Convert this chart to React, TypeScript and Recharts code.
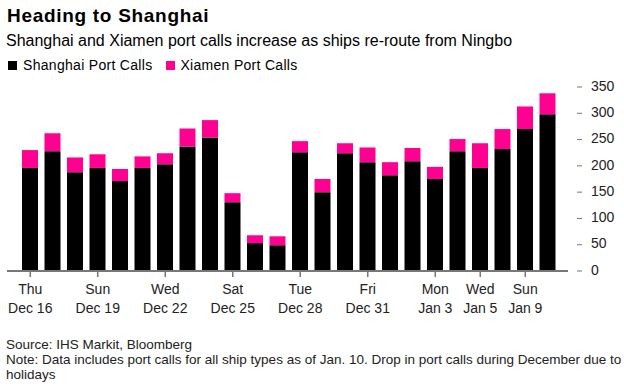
import { BarChart, Bar, XAxis, YAxis } from "recharts";

const categories = [
  "Dec 16", "Dec 17", "Dec 18", "Dec 19", "Dec 20", "Dec 21", "Dec 22", "Dec 23",
  "Dec 24", "Dec 25", "Dec 26", "Dec 27", "Dec 28", "Dec 29", "Dec 30", "Dec 31",
  "Jan 1", "Jan 2", "Jan 3", "Jan 4", "Jan 5", "Jan 6", "Jan 9", "Jan 10",
];
const shanghai = [196, 228, 188, 196, 171, 196, 203, 237, 254, 131, 53, 49, 226, 150, 224, 207, 182, 209, 175, 228, 196, 232, 270, 298];
const xiamen = [34, 34, 28, 26, 23, 22, 21, 34, 33, 17, 15, 17, 21, 25, 19, 28, 25, 25, 23, 23, 47, 38, 43, 40];

const tickDates = ["Dec 16", "Dec 19", "Dec 22", "Dec 25", "Dec 28", "Dec 31", "Jan 3", "Jan 5", "Jan 9"];
const tickDays = ["Thu", "Sun", "Wed", "Sat", "Tue", "Fri", "Mon", "Wed", "Sun"];
const yTicks = [0, 50, 100, 150, 200, 250, 300, 350];

const data = categories.map((c, i) => ({ date: c, shanghai: shanghai[i], xiamen: xiamen[i] }));

const FONT = "'Liberation Sans', Arial, sans-serif";
const PINK = "#ff0090";
const AXIS_Y = 271;
const TEXT = "#222";

function XTick(props: any) {
  const { x, payload } = props;
  const idx = tickDates.indexOf(payload.value);
  return (
    <g>
      <line x1={x} x2={x} y1={AXIS_Y} y2={AXIS_Y + 6} stroke="#777" strokeWidth={1.5} />
      <text x={x} y={AXIS_Y + 19.5} textAnchor="middle" dominantBaseline="middle" fontSize={14} fill={TEXT} fontFamily={FONT}>
        {tickDays[idx]}
      </text>
      <text x={x} y={AXIS_Y + 38} textAnchor="middle" dominantBaseline="middle" fontSize={14} fill={TEXT} fontFamily={FONT}>
        {payload.value}
      </text>
    </g>
  );
}

function YTick(props: any) {
  const { y, payload } = props;
  return (
    <g>
      <line x1={577} x2={582} y1={y} y2={y} stroke="#777" strokeWidth={1} />
      <text x={591} y={y} textAnchor="start" dominantBaseline="middle" fontSize={14} fill={TEXT} fontFamily={FONT}>
        {payload.value}
      </text>
    </g>
  );
}

export default function App() {
  return (
    <div style={{ position: "absolute", left: 0, top: 0, width: 624, height: 387, background: "#fff", fontFamily: FONT, color: TEXT }}>
      <div style={{ position: "absolute", left: 7, top: 5, fontSize: 19, fontWeight: 700, letterSpacing: 0.7, color: "#000", whiteSpace: "nowrap" }}>
        Heading to Shanghai
      </div>
      <div style={{ position: "absolute", left: 6, top: 32, fontSize: 16, color: "#000", whiteSpace: "nowrap" }}>
        Shanghai and Xiamen port calls increase as ships re-route from Ningbo
      </div>
      <div style={{ position: "absolute", left: 8, top: 57, fontSize: 14, letterSpacing: 0.3, color: "#000", display: "flex", alignItems: "center", whiteSpace: "nowrap" }}>
        <span style={{ width: 9, height: 9, background: "#000", display: "inline-block", marginRight: 6 }} />
        <span>Shanghai Port Calls</span>
        <span style={{ width: 9, height: 9, background: PINK, display: "inline-block", marginLeft: 14, marginRight: 5 }} />
        <span>Xiamen Port Calls</span>
      </div>
      <div style={{ position: "absolute", left: 0, top: 0 }}>
        <BarChart width={624} height={330} data={data} margin={{ top: 87, right: 0, left: 7, bottom: 0 }} barSize={16}>
          <XAxis
            dataKey="date"
            ticks={tickDates}
            interval={0}
            height={59}
            padding={{ left: 12, right: 9 }}
            axisLine={{ stroke: "#777", strokeWidth: 2 }}
            tickLine={false}
            tick={<XTick />}
          />
          <YAxis
            orientation="right"
            width={56}
            domain={[0, 350]}
            ticks={yTicks}
            axisLine={false}
            tickLine={false}
            tick={<YTick />}
          />
          <Bar dataKey="shanghai" stackId="a" fill="#000" isAnimationActive={false} />
          <Bar dataKey="xiamen" stackId="a" fill={PINK} isAnimationActive={false} />
        </BarChart>
      </div>
      <div style={{ position: "absolute", left: 6, top: 337, fontSize: 13.5, lineHeight: "15px", whiteSpace: "nowrap" }}>
        <div>Source: IHS Markit, Bloomberg</div>
        <div>Note: Data includes port calls for all ship types as of Jan. 10. Drop in port calls during December due to</div>
        <div>holidays</div>
      </div>
    </div>
  );
}
